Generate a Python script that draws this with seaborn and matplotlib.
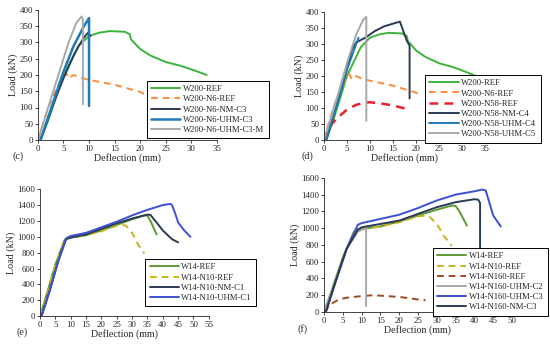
import numpy as np
import pandas as pd
import matplotlib
matplotlib.use("Agg")
import matplotlib.pyplot as plt
import seaborn as sb

# ---- panel (c) ----
c_ref_x = [0.5, 2, 5, 8, 10, 12, 14, 17, 18, 18.2, 20, 22, 25, 28, 31, 33]
c_ref_y = [0, 60, 200, 290, 320, 330, 335, 333, 325, 310, 280, 260, 240, 228, 212, 200]
c_n6_x = [0, 2, 4, 5.5, 6, 7, 8, 10, 15, 20, 21]
c_n6_y = [0, 100, 170, 207, 190, 200, 193, 185, 170, 148, 140]
c_nm_x = [0.5, 3, 5, 7, 8, 9, 9.8, 10, 10.3]
c_nm_y = [0, 110, 190, 260, 290, 315, 330, 325, 320]
c_uhm_x = [0.5, 5, 7, 9, 10, 10]
c_uhm_y = [0, 210, 290, 350, 375, 105]
c_uhmm_x = [0, 2, 4, 6, 7.5, 8.5, 8.8, 8.8]
c_uhmm_y = [0, 100, 200, 300, 360, 380, 370, 110]

# ---- panel (d) ----
d_n58_x = [0, 1, 3, 5, 7, 9, 10, 12, 15, 18]
d_n58_y = [0, 40, 70, 95, 110, 117, 118, 115, 108, 97]
d_nm_x = [0.5, 3, 5, 6, 7, 9, 11, 13, 16, 16.5, 17, 18, 18.6, 18.6]
d_nm_y = [0, 120, 220, 280, 305, 320, 340, 355, 368, 370, 350, 310, 295, 130]
d_uhm4_x = [0.5, 3, 5, 7.5]
d_uhm4_y = [0, 120, 220, 320]
d_uhm5_x = [0, 3, 5, 7, 8.5, 9.2, 9.2]
d_uhm5_y = [0, 140, 240, 330, 375, 385, 60]

# ---- panel (e) / (f) ----
e_ref_x = [0, 2, 5, 8, 9, 10, 15, 20, 25, 30, 34, 35, 36, 38]
e_ref_y = [0, 250, 650, 960, 990, 990, 1020, 1080, 1150, 1220, 1270, 1265, 1200, 1030]
e_n10_x = [0, 2, 5, 8, 10, 15, 20, 25, 27, 28, 30, 32, 34]
e_n10_y = [0, 230, 640, 960, 990, 1020, 1070, 1140, 1150, 1140, 1050, 900, 790]
e_nm_x = [0.5, 3, 6, 8.5, 10, 15, 20, 25, 30, 35, 36, 38, 40, 43, 45]
e_nm_y = [0, 300, 700, 970, 990, 1030, 1100, 1170, 1230, 1280, 1275, 1180, 1080, 970, 930]
e_uhm_x = [0.5, 3, 6, 8.5, 10, 15, 20, 25, 30, 35, 40, 42.5, 43, 44, 45, 47, 49]
e_uhm_y = [0, 300, 700, 980, 1010, 1050, 1120, 1190, 1270, 1340, 1400, 1415, 1400, 1300, 1180, 1080, 1000]

f_n160_x = [0, 2, 4, 6, 10, 13, 15, 20, 25, 27]
f_n160_y = [0, 100, 150, 170, 190, 200, 195, 180, 150, 140]
f_uhm2_x = [0, 3, 6, 9, 11, 11.2, 11.2]
f_uhm2_y = [0, 350, 750, 960, 1000, 1000, 70]
f_uhm3_x = [0.5, 3, 6, 9, 10, 15, 20, 25, 30, 35, 40, 42, 43, 44, 45, 47]
f_uhm3_y = [0, 350, 750, 1040, 1060, 1110, 1160, 1240, 1330, 1400, 1440, 1460, 1450, 1300, 1150, 1020]
f_nm3_x = [0.5, 3, 6, 9, 10, 15, 20, 25, 30, 35, 40, 41, 41.5, 41.5]
f_nm3_y = [0, 350, 750, 980, 1010, 1050, 1090, 1170, 1250, 1310, 1345, 1340, 1300, 600]

sb.set_style("ticks")
plt.rcParams['font.family'] = ['Liberation Serif', 'DejaVu Serif']

GREEN = "#3cb43c"
ORANGE = "#ff8c3c"
NAVY = "#2b3a55"
BLUE = "#1f7ab8"
GRAY = "#a8a8a8"
RED = "#e8202c"
OLIVE = "#5f9a34"
YELLOW = "#c8b41e"
BLUE2 = "#3c50d2"
BROWN = "#a04a20"


def curba(ax, x, y, eticheta, culoare, lw=1.4, dash=False):
    sb.lineplot(x=x, y=y, ax=ax, sort=False, estimator=None, color=culoare,
                linewidth=lw, label=eticheta,
                linestyle=(0, (3.5, 2.5)) if dash else "-")


def formatare(ax, xmax, xstep, ymax, ystep, litera, leg_xy):
    ax.set_xlim(0, xmax)
    ax.set_ylim(0, ymax)
    ax.set_xticks(np.arange(0, xmax + 1, xstep))
    ax.set_yticks(np.arange(0, ymax + 1, ystep))
    ax.tick_params(labelsize=6.4, length=2, width=0.6, pad=1.5)
    for s in ["left", "bottom"]:
        ax.spines[s].set_linewidth(0.6)
    sb.despine(ax=ax)
    ax.set_xlabel("Deflection (mm)", fontsize=7.2, labelpad=0)
    ax.set_ylabel("Load (kN)", fontsize=7.2, labelpad=1)
    ax.text(-0.14, -0.09, litera, transform=ax.transAxes, fontsize=7.2,
            ha="left", va="top")
    leg = ax.legend(loc="upper left", bbox_to_anchor=leg_xy,
                    bbox_transform=ax.figure.transFigure, borderaxespad=0,
                    fontsize=6.2, frameon=True, fancybox=False,
                    handlelength=3.4, handletextpad=0.3, labelspacing=0.25,
                    borderpad=0.5)
    leg.get_frame().set_edgecolor("black")
    leg.get_frame().set_linewidth(0.7)
    leg.get_frame().set_alpha(1)


fig = plt.figure(figsize=(5.5, 3.44), dpi=100)

ax_c = fig.add_axes([0.069, 0.593, 0.325, 0.378])
curba(ax_c, c_ref_x, c_ref_y, "W200-REF", GREEN)
curba(ax_c, c_n6_x, c_n6_y, "W200-N6-REF", ORANGE, dash=True)
curba(ax_c, c_nm_x, c_nm_y, "W200-N6-NM-C3", NAVY)
curba(ax_c, c_uhm_x, c_uhm_y, "W200-N6-UHM-C3", BLUE, lw=1.8)
curba(ax_c, c_uhmm_x, c_uhmm_y, "W200-N6-UHM-C3-M", GRAY)
formatare(ax_c, 35, 5, 400, 50, "(c)", (0.267, 0.765))

ax_d = fig.add_axes([0.589, 0.593, 0.293, 0.372])
curba(ax_d, c_ref_x, c_ref_y, "W200-REF", GREEN)
curba(ax_d, c_n6_x, c_n6_y, "W200-N6-REF", ORANGE, dash=True)
curba(ax_d, d_n58_x, d_n58_y, "W200-N58-REF", RED, lw=1.8, dash=True)
curba(ax_d, d_nm_x, d_nm_y, "W200-N58-NM-C4", NAVY)
curba(ax_d, d_uhm4_x, d_uhm4_y, "W200-N58-UHM-C4", BLUE)
curba(ax_d, d_uhm5_x, d_uhm5_y, "W200-N58-UHM-C5", GRAY)
formatare(ax_d, 35, 5, 400, 50, "(d)", (0.773, 0.782))

ax_e = fig.add_axes([0.0727, 0.081, 0.307, 0.369])
curba(ax_e, e_ref_x, e_ref_y, "W14-REF", OLIVE)
curba(ax_e, e_n10_x, e_n10_y, "W14-N10-REF", YELLOW, dash=True)
curba(ax_e, e_nm_x, e_nm_y, "W14-N10-NM-C1", NAVY)
curba(ax_e, e_uhm_x, e_uhm_y, "W14-N10-UHM-C1", BLUE2)
formatare(ax_e, 55, 5, 1600, 200, "(e)", (0.264, 0.247))

ax_f = fig.add_axes([0.589, 0.093, 0.342, 0.390])
curba(ax_f, e_ref_x, e_ref_y, "W14-REF", OLIVE)
curba(ax_f, e_n10_x, e_n10_y, "W14-N10-REF", YELLOW, dash=True)
curba(ax_f, f_n160_x, f_n160_y, "W14-N160-REF", BROWN, dash=True)
curba(ax_f, f_uhm2_x, f_uhm2_y, "W14-N160-UHM-C2", GRAY)
curba(ax_f, f_uhm3_x, f_uhm3_y, "W14-N160-UHM-C3", BLUE2)
curba(ax_f, f_nm3_x, f_nm3_y, "W14-N160-NM-C3", NAVY)
formatare(ax_f, 50, 5, 1600, 200, "(f)", (0.787, 0.279))

fig.savefig("out.png", dpi=100)
